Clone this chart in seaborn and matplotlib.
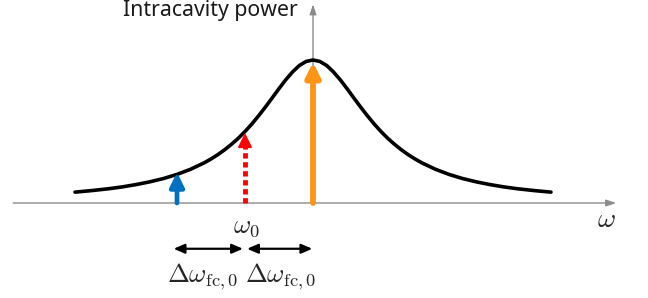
import matplotlib
matplotlib.use("Agg")
import pandas as pd
import seaborn as sns
from matplotlib import pyplot as plt

# cavity resonance (intracavity power vs detuning, in HWHM units)
omega = [-3.5, -3.25, -3.0, -2.8, -2.6, -2.4, -2.2, -2.0, -1.8, -1.6, -1.5, -1.4, -1.3, -1.2, -1.1,
         -1.0, -0.9, -0.8, -0.7, -0.6, -0.5, -0.4, -0.3, -0.2, -0.1, 0.0,
         0.1, 0.2, 0.3, 0.4, 0.5, 0.6, 0.7, 0.8, 0.9, 1.0,
         1.1, 1.2, 1.3, 1.4, 1.5, 1.6, 1.8, 2.0, 2.2, 2.4, 2.6, 2.8, 3.0, 3.25, 3.5]
power = [0.076, 0.087, 0.100, 0.113, 0.129, 0.148, 0.171, 0.200, 0.236, 0.281, 0.308, 0.338, 0.372, 0.410, 0.452,
         0.500, 0.552, 0.610, 0.671, 0.735, 0.800, 0.862, 0.917, 0.962, 0.990, 1.000,
         0.990, 0.962, 0.917, 0.862, 0.800, 0.735, 0.671, 0.610, 0.552, 0.500,
         0.452, 0.410, 0.372, 0.338, 0.308, 0.281, 0.236, 0.200, 0.171, 0.148, 0.129, 0.113, 0.100, 0.087, 0.076]

# tones: blue comb line, red (dotted) carrier at omega_0, orange at resonance
tone_pos = [-2.0, -1.0, 0.0]
tone_height = [0.215, 0.49, 0.985]
tone_color = ["#0070c0", "#ff0000", "#ff9514"]

df = pd.DataFrame({"omega": omega, "power": power})

sns.set_style("white")
plt.rcParams["mathtext.fontset"] = "cm"
fig = plt.figure(figsize=(6.48, 2.98), dpi=100)
ax = fig.add_axes([0, 0, 1, 1])
ax.set_xlim(-313 / 68, (648 - 313) / 68)
ax.set_ylim((203 - 298) / 143, 203 / 143)
ax.axis("off")

# axes with arrows
ax.annotate("", xy=(4.46, 0), xytext=(-4.41, 0),
            arrowprops=dict(arrowstyle="-|>,head_width=0.2,head_length=0.6", color="#8c8c8c",
                            lw=1, shrinkA=0, shrinkB=0, mutation_scale=10))
ax.annotate("", xy=(0, 1.39), xytext=(0, -0.01),
            arrowprops=dict(arrowstyle="-|>,head_width=0.2,head_length=0.6", color="#8c8c8c",
                            lw=1, shrinkA=0, shrinkB=0, mutation_scale=10))

sns.lineplot(data=df, x="omega", y="power", color="black", lw=2.6, ax=ax, zorder=3)

# blue and orange tones: solid arrows
for i, lw in [(0, 3.4), (2, 4.2)]:
    ax.annotate("", xy=(tone_pos[i], tone_height[i]), xytext=(tone_pos[i], 0),
                arrowprops=dict(arrowstyle="-|>,head_width=0.42,head_length=0.85",
                                color=tone_color[i], lw=lw, shrinkA=0, shrinkB=0,
                                mutation_scale=10), zorder=4)

# red tone: dotted shaft + head
ax.plot([tone_pos[1], tone_pos[1]], [0, tone_height[1] - 0.08], color=tone_color[1],
        lw=3.5, linestyle=(0, (1.1, 0.75)), solid_capstyle="butt", dash_capstyle="butt", zorder=4)
ax.annotate("", xy=(tone_pos[1], tone_height[1]), xytext=(tone_pos[1], tone_height[1] - 0.09),
            arrowprops=dict(arrowstyle="-|>,head_width=0.42,head_length=0.85",
                            color=tone_color[1], lw=1.5, shrinkA=0, shrinkB=0,
                            mutation_scale=10), zorder=4)

# spacing arrows
for a, b in [(-2.05, -1.03), (-0.97, -0.01)]:
    ax.annotate("", xy=(b, -0.32), xytext=(a, -0.32),
                arrowprops=dict(arrowstyle="<|-|>,head_width=0.28,head_length=0.65",
                                color="black", lw=1.6, shrinkA=0, shrinkB=0, mutation_scale=10))

ax.text(-0.98, -0.205, r"$\omega_0$", fontsize=19, ha="center", va="baseline")
ax.text(-1.63, -0.552, r"$\Delta\omega_{\mathrm{fc},0}$", fontsize=19, ha="center", va="baseline")
ax.text(-0.48, -0.552, r"$\Delta\omega_{\mathrm{fc},0}$", fontsize=19, ha="center", va="baseline")
ax.text(4.31, -0.168, r"$\omega$", fontsize=20, ha="center", va="baseline")
ax.text(-0.23, 1.305, "Intracavity power", fontsize=15.3, ha="right", va="baseline",
        family="Noto Sans", color="#1a1a1a")

fig.savefig("out.png", dpi=100)
